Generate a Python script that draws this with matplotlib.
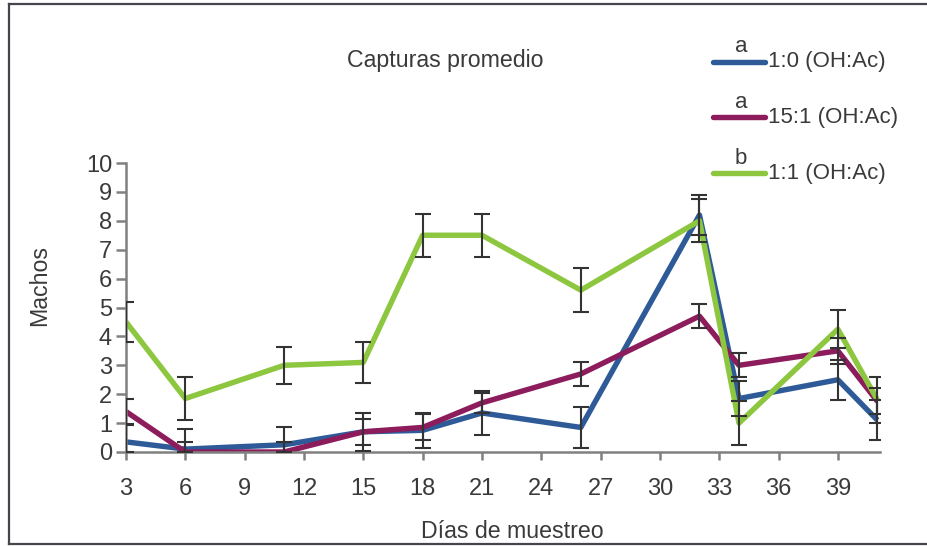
import numpy as np
import matplotlib
matplotlib.use("Agg")
import matplotlib.pyplot as plt
from matplotlib.lines import Line2D

plt.rcParams['font.family'] = ['Liberation Sans', 'DejaVu Sans']

# sampling days
dias = [3, 6, 11, 15, 18, 21, 26, 32, 34, 39, 41]

# mean captures per treatment and their error bars
oh_1_0 = [0.35, 0.1, 0.25, 0.7, 0.75, 1.35, 0.85, 8.2, 1.85, 2.5, 1.1]
oh_1_0_err = [0.6, 0.7, 0.6, 0.65, 0.6, 0.75, 0.7, 0.7, 0.6, 0.7, 0.7]

oh_15_1 = [1.4, 0.0, 0.0, 0.7, 0.85, 1.7, 2.7, 4.7, 3.0, 3.5, 1.75]
oh_15_1_err = [0.42, 0.35, 0.35, 0.45, 0.45, 0.35, 0.42, 0.42, 0.42, 0.45, 0.45]

oh_1_1 = [4.5, 1.85, 3.0, 3.1, 7.5, 7.5, 5.6, 8.0, 1.0, 4.25, 1.8]
oh_1_1_err = [0.7, 0.75, 0.65, 0.7, 0.75, 0.75, 0.75, 0.75, 0.75, 0.65, 0.8]

series = [
    ("1:0 (OH:Ac)", "a", oh_1_0, oh_1_0_err, "#2e5b98"),
    ("15:1 (OH:Ac)", "a", oh_15_1, oh_15_1_err, "#8c1c5c"),
    ("1:1 (OH:Ac)", "b", oh_1_1, oh_1_1_err, "#8dc63f"),
]

W, H = 928, 546
fig = plt.figure(figsize=(W / 100, H / 100), dpi=100)
ax = fig.add_axes([126 / W, 1 - 452 / H, (880 - 126) / W, (452 - 163) / H])

txt = "#3a3a3a"
axis_col = "#808080"

for nombre, letra, vals, err, col in series:
    ax.plot(dias, vals, color=col, lw=3.9, zorder=2, solid_capstyle="butt")

for nombre, letra, vals, err, col in series:
    v = np.array(vals)
    e = np.array(err)
    lower = np.minimum(e, v)  # bars stop at zero
    ax.errorbar(dias, v, yerr=[lower, e], fmt="none", ecolor="#333333",
                elinewidth=1.5, capsize=6, capthick=1.5, zorder=3)

ax.set_xlim(3, 41.13)
ax.set_ylim(0, 10)
ax.set_xticks(range(3, 40, 3))
ax.set_yticks(range(0, 11))
for s in ["top", "right"]:
    ax.spines[s].set_visible(False)
for s in ["left", "bottom"]:
    ax.spines[s].set_color(axis_col)
    ax.spines[s].set_linewidth(1.8)
ax.tick_params(axis="both", colors=axis_col, width=1.8, labelsize=17,
               labelcolor=txt)
ax.tick_params(axis="y", length=7, pad=3)
ax.tick_params(axis="x", length=6, pad=13)

fig.text(445 / W, 1 - 60 / H, "Capturas promedio", ha="center", va="center",
         fontsize=16.7, color=txt)
fig.text(512 / W, 1 - 531 / H, "Días de muestreo", ha="center", va="center",
         fontsize=16.7, color=txt)
fig.text(40 / W, 1 - 285 / H, "Machos", ha="center", va="center",
         rotation=90, fontsize=16.7, color=txt)

# legend with significance letters above each line
leg_y = [62, 117, 173]
for (nombre, letra, vals, err, col), y in zip(series, leg_y):
    fig.add_artist(Line2D([713 / W, 765 / W], [1 - y / H, 1 - y / H],
                          color=col, lw=3.9, solid_capstyle="round"))
    fig.text(741 / W, 1 - (y - 15) / H, letra, ha="center", va="center",
             fontsize=16, color=txt)
    fig.text(768 / W, 1 - y / H, nombre, ha="left", va="center",
             fontsize=16, color=txt)

# frame around the figure
frame = "#45454d"
fig.add_artist(Line2D([9 / W, 9 / W], [1 - 4 / H, 1 - 544 / H], color=frame, lw=1.6))
fig.add_artist(Line2D([9 / W, 1], [1 - 4 / H, 1 - 4 / H], color=frame, lw=1.6))
fig.add_artist(Line2D([9 / W, 1], [1 - 544 / H, 1 - 544 / H], color=frame, lw=1.6))

fig.savefig("out.png", dpi=100)
